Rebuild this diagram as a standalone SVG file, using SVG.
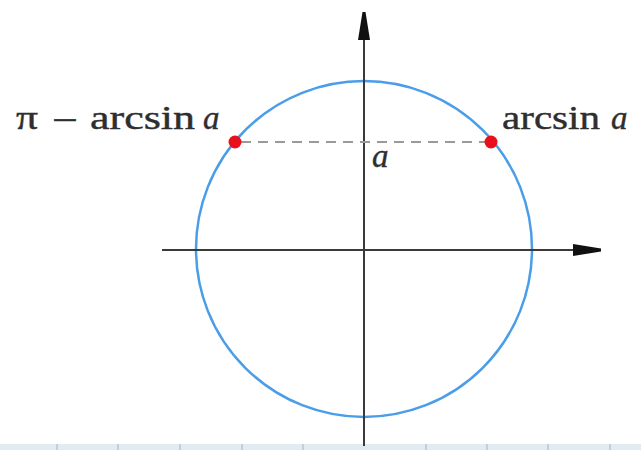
<svg xmlns="http://www.w3.org/2000/svg" width="641" height="450" viewBox="0 0 641 450">
<defs>
<style>
.axis{stroke:#3a3a3a;stroke-width:2;fill:none}
.circle{stroke:#4a9de8;stroke-width:2.5;fill:none}
.dash{stroke:#9a9a9a;stroke-width:2;stroke-dasharray:10 7;fill:none}
.pt{fill:#e8101c}
.lbl{font-family:"Liberation Serif","DejaVu Serif",serif;font-size:33px;fill:#2e2e2e;stroke:#2e2e2e;stroke-width:0.4}
.it{font-style:italic}
.band{fill:#e2ebef}
.tick{stroke:#b8c7cf;stroke-width:1.5}
</style>
<marker id="arr" markerWidth="28" markerHeight="14" refX="27" refY="7" orient="auto" markerUnits="userSpaceOnUse">
<path d="M0,1 L28,5.5 L28,8.5 L0,13 Z" fill="#111"/>
</marker>
</defs>
<rect width="641" height="450" fill="#fff"/>
<g id="band">
<rect class="band" x="0" y="444" width="641" height="6"/>
<line class="tick" x1="57" y1="444" x2="57" y2="450"/>
<line class="tick" x1="118" y1="444" x2="118" y2="450"/>
<line class="tick" x1="180" y1="444" x2="180" y2="450"/>
<line class="tick" x1="242" y1="444" x2="242" y2="450"/>
<line class="tick" x1="303" y1="444" x2="303" y2="450"/>
<line class="tick" x1="426" y1="444" x2="426" y2="450"/>
<line class="tick" x1="487" y1="444" x2="487" y2="450"/>
<line class="tick" x1="548" y1="444" x2="548" y2="450"/>
<line class="tick" x1="610" y1="444" x2="610" y2="450"/>
</g>
<g id="circle">
<circle class="circle" cx="364" cy="249" r="168"/>
</g>
<g id="connectors">
<line class="axis" x1="162" y1="250" x2="600" y2="250" marker-end="url(#arr)"/>
<line class="axis" x1="364" y1="446" x2="364" y2="13" marker-end="url(#arr)"/>
<line class="dash" x1="241" y1="142" x2="486" y2="142"/>
</g>
<g id="left-point">
<circle class="pt" cx="235" cy="142" r="6.5"/>
<text class="lbl" x="16" y="129" font-size="40" textLength="22" lengthAdjust="spacingAndGlyphs">π</text>
<text class="lbl" x="52" y="131" font-size="44" textLength="26" lengthAdjust="spacingAndGlyphs">−</text>
<text class="lbl" x="90" y="129" textLength="105" lengthAdjust="spacingAndGlyphs">arcsin</text>
<text class="lbl it" x="203" y="129">a</text>
</g>
<g id="right-point">
<circle class="pt" cx="491" cy="142" r="6.5"/>
<text class="lbl" x="502" y="129" textLength="98" lengthAdjust="spacingAndGlyphs">arcsin</text>
<text class="lbl it" x="611" y="129">a</text>
</g>
<g id="a-label">
<text class="lbl it" x="372" y="167">a</text>
</g>
</svg>
